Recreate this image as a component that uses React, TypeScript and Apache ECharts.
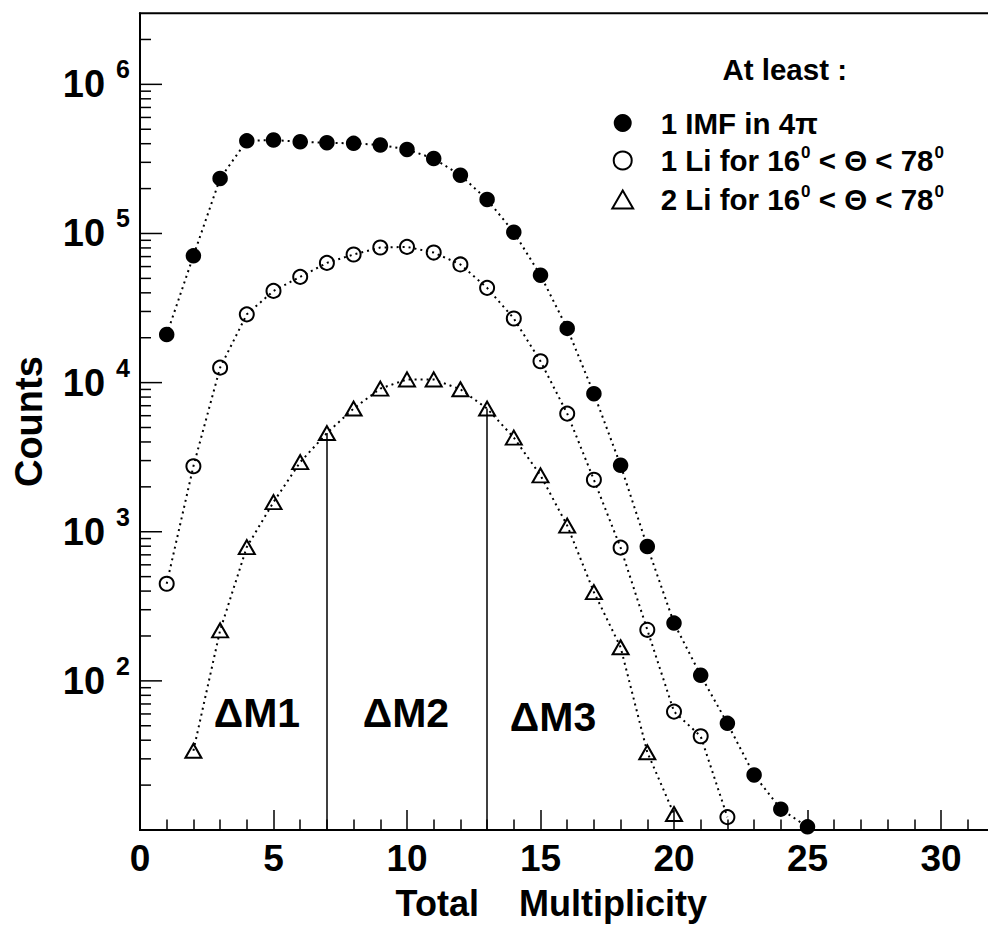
import React, { useEffect, useRef } from 'react';
import * as echarts from 'echarts';

const FONT = '"Liberation Sans", Arial, Helvetica, sans-serif';

// Total multiplicity (x) and counts (y) for each selection
const imfMult = [1, 2, 3, 4, 5, 6, 7, 8, 9, 10, 11, 12, 13, 14, 15, 16, 17, 18, 19, 20, 21, 22, 23, 24, 25];
const imfCounts = [21000, 70800, 234000, 418000, 423000, 412000, 406000, 402000, 392000, 366000, 318000, 246000, 169000, 102000, 52500, 23100, 8430, 2790, 796, 244, 109, 51.9, 23.4, 13.8, 10.5];

const li1Mult = [1, 2, 3, 4, 5, 6, 7, 8, 9, 10, 11, 12, 13, 14, 15, 16, 17, 18, 19, 20, 21, 22];
const li1Counts = [448, 2750, 12600, 28700, 41200, 51200, 63500, 72300, 80500, 81300, 74500, 62000, 43200, 26900, 13900, 6200, 2230, 782, 220, 62.2, 42.5, 12.2];

const li2Mult = [2, 3, 4, 5, 6, 7, 8, 9, 10, 11, 12, 13, 14, 15, 16, 17, 18, 19, 20];
const li2Counts = [34.0, 218, 789, 1580, 2930, 4590, 6700, 9120, 10500, 10500, 9020, 6700, 4280, 2390, 1100, 394, 168, 33.2, 12.8];

const seriesNames = ['1 IMF in 4π', '1 Li for 16⁰ < Θ < 78⁰', '2 Li for 16⁰ < Θ < 78⁰'];
const legendTitle = 'At least :';

// multiplicity cuts separating the bins
const cutMult = [7, 13];
const regionNames = ['ΔM1', 'ΔM2', 'ΔM3'];
const regionX = [4.38, 9.96, 15.47];
const regionY = [61, 61, 57];

const xMin = 0;
const xMax = 35;
const xInterval = 5;
const yMin = 10;
const yMax = 3e6;
const yDecades = [1, 2, 3, 4, 5, 6];
const yMinorFactors = [2, 3, 4, 5, 6, 7, 8, 9];

function buildYTicks() {
  const out: number[][] = [];
  yDecades.forEach((e) => {
    const base = Math.pow(10, e);
    if (base > yMin && base < yMax) out.push([0, base, 22]);
    yMinorFactors.forEach((k) => {
      const v = k * base;
      if (v > yMin && v < yMax) out.push([0, v, 11]);
    });
  });
  return out;
}

function legendFmt(name: string) {
  const s = '{t|' + name.replace(/⁰/g, '}{s|0}{t|') + '}';
  return s.replace(/\{t\|\}/g, '');
}

export default function App() {
  const ref = useRef<HTMLDivElement>(null);
  useEffect(() => {
    document.body.style.margin = '0';
    document.body.style.background = '#fff';
    if (!ref.current) return;
    const chart = echarts.init(ref.current, undefined, { renderer: 'svg' });
    const hollow = { color: 'rgba(255,255,255,0)', borderColor: '#000', borderWidth: 2 };
    const dotted = { color: '#000', width: 2, type: [2, 4] as number[] };
    const titleGraphic = {
      id: 'legendTitle',
      type: 'text',
      x: 784.7,
      y: 69,
      style: {
        text: legendTitle,
        fontFamily: FONT,
        fontWeight: 'bold',
        fontSize: 29.5,
        fill: '#000',
        align: 'center',
        verticalAlign: 'middle',
      },
    };
    const option: any = {
      animation: false,
      backgroundColor: '#fff',
      textStyle: { fontFamily: FONT },
      grid: {
        left: 140,
        top: 13.2,
        width: 934.5,
        height: 816.8,
        containLabel: false,
        outerBoundsMode: 'none',
        show: true,
        borderColor: '#000',
        borderWidth: 2,
        backgroundColor: 'transparent',
      },
      xAxis: {
        type: 'value',
        min: xMin,
        max: xMax,
        interval: xInterval,
        name: 'Total    Multiplicity',
        nameLocation: 'middle',
        nameGap: 55,
        nameTextStyle: {
          fontFamily: FONT,
          fontWeight: 'bold',
          fontSize: 36,
          color: '#000',
          padding: [0, 112, 0, 0],
        },
        axisLine: { show: true, lineStyle: { color: '#000', width: 2 } },
        axisTick: { show: true, inside: true, length: 20, lineStyle: { color: '#000', width: 1.5 } },
        minorTick: { show: true, splitNumber: 5, length: 10.5, lineStyle: { color: '#000', width: 1.5 } },
        splitLine: { show: false },
        minorSplitLine: { show: false },
        axisLabel: {
          show: true,
          margin: 10,
          showMaxLabel: false,
          fontFamily: FONT,
          fontWeight: 'bold',
          fontSize: 37,
          color: '#000',
        },
      },
      yAxis: {
        type: 'log',
        logBase: 10,
        min: yMin,
        max: yMax,
        name: 'Counts',
        nameLocation: 'middle',
        nameGap: 92,
        nameTextStyle: { fontFamily: FONT, fontWeight: 'bold', fontSize: 38, color: '#000' },
        axisLine: { show: true, lineStyle: { color: '#000', width: 2 } },
        axisTick: { show: false },
        splitLine: { show: false },
        axisLabel: {
          show: true,
          margin: 10,
          color: '#000',
          formatter: (v: number) => {
            const l = Math.log10(v);
            const e = Math.round(l);
            if (Math.abs(l - e) > 1e-6 || e < 2) return '';
            return '{b|10}{s|' + e + '}';
          },
          rich: {
            b: { fontFamily: FONT, fontWeight: 'bold', fontSize: 38, lineHeight: 40, color: '#000' },
            s: {
              fontFamily: FONT,
              fontWeight: 'bold',
              fontSize: 25,
              lineHeight: 25,
              color: '#000',
              padding: [0, 0, 30, 11],
            },
          },
        },
      },
      legend: {
        show: true,
        orient: 'vertical',
        left: 611.3,
        top: 108,
        padding: 0,
        itemGap: 6,
        itemWidth: 66,
        itemHeight: 18,
        selectedMode: false,
        formatter: legendFmt,
        textStyle: {
          color: '#000',
          rich: {
            t: { fontFamily: FONT, fontWeight: 'bold', fontSize: 29.5, lineHeight: 31, color: '#000' },
            s: {
              fontFamily: FONT,
              fontWeight: 'bold',
              fontSize: 17,
              lineHeight: 17,
              color: '#000',
              padding: [0, 0, 16, 1],
            },
          },
        },
        data: [
          { name: seriesNames[0], icon: 'circle', itemStyle: { color: '#000', borderWidth: 0 } },
          { name: seriesNames[1], icon: 'circle', itemStyle: { color: '#fff', borderColor: '#000', borderWidth: 2 } },
          {
            name: seriesNames[2],
            icon: 'path://M0,19 L11,0 L22,19 Z',
            itemStyle: { color: '#fff', borderColor: '#000', borderWidth: 2 },
          },
        ],
      },
      graphic: [titleGraphic],
      series: [
        {
          name: seriesNames[0],
          type: 'line',
          data: imfMult.map((m, i) => [m, imfCounts[i]]),
          symbol: 'circle',
          symbolSize: 15.5,
          itemStyle: { color: '#000' },
          lineStyle: dotted,
          emphasis: { disabled: true },
          z: 3,
        },
        {
          name: seriesNames[1],
          type: 'line',
          data: li1Mult.map((m, i) => [m, li1Counts[i]]),
          symbol: 'circle',
          symbolSize: 14,
          itemStyle: hollow,
          lineStyle: dotted,
          emphasis: { disabled: true },
          z: 3,
        },
        {
          name: seriesNames[2],
          type: 'line',
          data: li2Mult.map((m, i) => [m, li2Counts[i]]),
          symbol: 'triangle',
          symbolSize: [16, 14],
          itemStyle: hollow,
          lineStyle: dotted,
          emphasis: { disabled: true },
          z: 3,
          markLine: {
            silent: true,
            symbol: 'none',
            label: { show: false },
            lineStyle: { color: '#000', width: 1.5, type: 'solid' },
            data: cutMult.map((m) => [
              { coord: [m, yMin] },
              { coord: [m, li2Counts[li2Mult.indexOf(m)]] },
            ]),
          },
        },
        {
          name: 'yticks',
          type: 'custom',
          silent: true,
          data: buildYTicks(),
          encode: { x: 0, y: 1 },
          renderItem: (params: any, api: any) => {
            const p = api.coord([api.value(0), api.value(1)]);
            const len = api.value(2);
            return {
              type: 'line',
              shape: { x1: p[0], y1: p[1], x2: p[0] + len, y2: p[1] },
              style: { stroke: '#000', lineWidth: 1.5 },
            };
          },
          z: 5,
        },
      ],
    };
    chart.setOption(option);
    const regionGraphics = regionNames.map((n, i) => {
      const p = chart.convertToPixel({ gridIndex: 0 }, [regionX[i], regionY[i]]) as number[];
      return {
        id: 'region' + i,
        type: 'text',
        x: p[0],
        y: p[1],
        z: 10,
        style: {
          text: n,
          fontFamily: FONT,
          fontWeight: 'bold',
          fontSize: 41,
          fill: '#000',
          align: 'center',
          verticalAlign: 'middle',
        },
      };
    });
    chart.setOption({ graphic: [titleGraphic, ...regionGraphics] });
    return () => {
      chart.dispose();
    };
  }, []);
  return (
    <div
      ref={ref}
      style={{ width: 988, height: 938, overflow: 'hidden', background: '#fff', position: 'relative' }}
    />
  );
}
